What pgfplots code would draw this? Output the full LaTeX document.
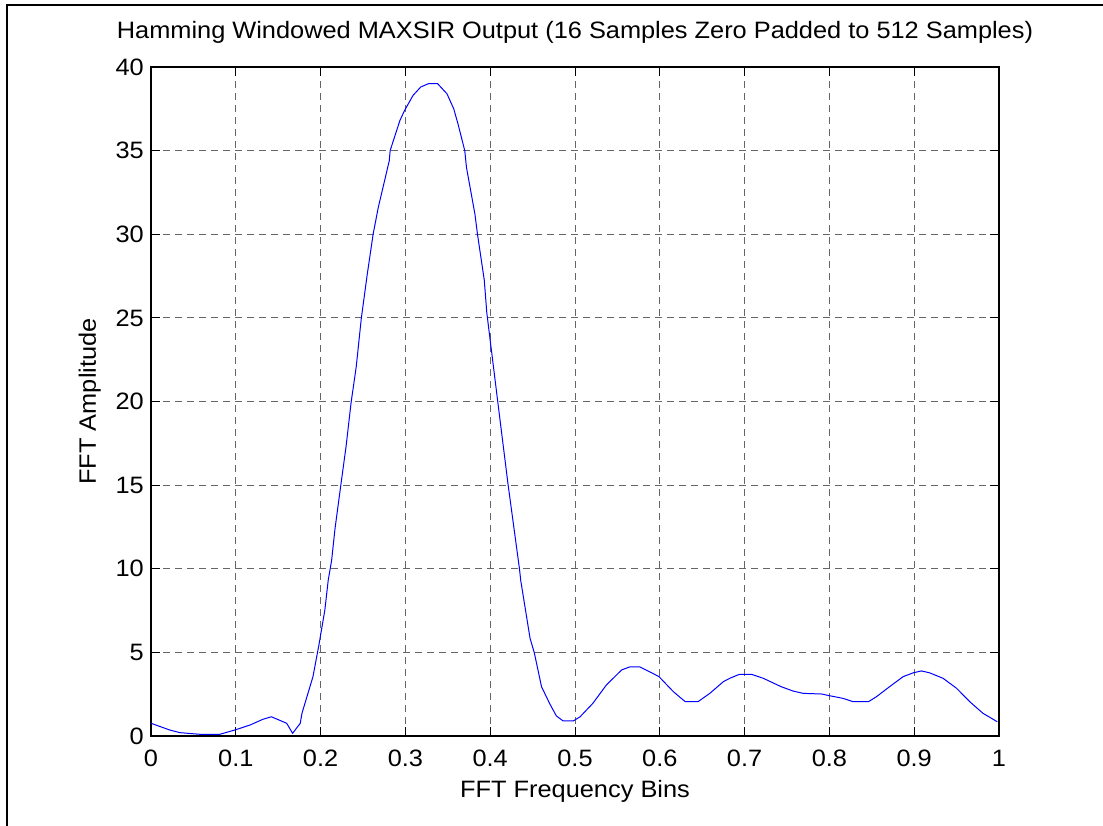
\documentclass[border=0pt]{standalone}
\usepackage{fontspec}
\setmainfont[FakeStretch=1.07]{Liberation Sans}
\usepackage{pgfplots}
\pgfplotsset{compat=1.18}
\newcommand{\figfont}{\fontsize{23.7}{28}\selectfont}
\begin{document}
\begin{tikzpicture}
% page frame (left and top edges)
\path[use as bounding box] (0pt,0pt) rectangle (1103pt,826pt);
\draw[line width=2pt] (7pt,0pt) -- (7pt,821pt) -- (1103pt,821pt);
\begin{axis}[
  at={(151pt,90pt)}, anchor=south west,
  scale only axis, width=848pt, height=669pt,
  xmin=0, xmax=1, ymin=0, ymax=40,
  xtick={0,0.1,0.2,0.3,0.4,0.5,0.6,0.7,0.8,0.9,1},
  xticklabels={0,0.1,0.2,0.3,0.4,0.5,0.6,0.7,0.8,0.9,1},
  ytick={0,5,10,15,20,25,30,35,40},
  yticklabels={0,5,10,15,20,25,30,35,40},
  grid=major,
  major grid style={dash pattern=on 7pt off 5pt, black!60, line width=1pt},
  tick align=inside, major tick length=9pt,
  tick style={black, line width=1pt},
  axis line style={line width=2pt},
  every tick label/.append style={font=\figfont},
  xticklabel style={anchor=base, inner sep=0pt, yshift=-31pt},
  yticklabel style={anchor=east, inner sep=0pt, xshift=-7pt},
  title={Hamming Windowed MAXSIR Output (16 Samples Zero Padded to 512 Samples)},
  title style={font=\figfont, at={(axis description cs:0.5,1.0329)}, anchor=base, inner sep=0pt},
  xlabel={FFT Frequency Bins},
  xlabel style={font=\figfont, at={(axis description cs:0.5,-0.0912)}, anchor=base, inner sep=0pt},
  ylabel={FFT Amplitude},
  ylabel style={font=\figfont, at={(axis description cs:-0.0649,0.5)}, anchor=base, inner sep=0pt},
]
\addplot[blue, line width=1pt] coordinates {
(0,0.76) (0.022,0.36) (0.034,0.2) (0.058,0.1) (0.081,0.1) (0.099,0.36)
(0.117,0.66) (0.132,1.0) (0.142,1.15) (0.160,0.76) (0.167,0.16) (0.176,0.76)
(0.178,1.35) (0.191,3.55) (0.198,5.44) (0.205,7.53) (0.209,9.32) (0.213,10.5)
(0.217,12.4) (0.224,15.06) (0.230,17.3) (0.236,19.95) (0.242,22.07) (0.248,24.97)
(0.255,27.6) (0.262,30.02) (0.268,31.6) (0.281,34.4) (0.282,35.0) (0.2935,36.8)
(0.299,37.4) (0.309,38.3) (0.318,38.8) (0.327,39.0) (0.338,39.0) (0.349,38.4)
(0.357,37.5) (0.362,36.6) (0.370,35.0) (0.372,34.0) (0.382,31.2) (0.385,30.0)
(0.393,27.26) (0.396,25.3) (0.409,19.95) (0.421,15.06) (0.4345,10.0) (0.436,9.3)
(0.447,5.84) (0.452,4.98) (0.4605,2.95) (0.470,1.95) (0.478,1.2) (0.486,0.9)
(0.498,0.9) (0.506,1.15) (0.521,1.95) (0.537,3.05) (0.555,3.95) (0.565,4.14)
(0.576,4.14) (0.588,3.84) (0.599,3.55) (0.616,2.65) (0.630,2.05) (0.645,2.05)
(0.659,2.55) (0.675,3.25) (0.6825,3.45) (0.694,3.69) (0.708,3.69) (0.722,3.45)
(0.743,2.95) (0.757,2.69) (0.769,2.55) (0.791,2.51) (0.800,2.41) (0.816,2.25)
(0.828,2.05) (0.846,2.05) (0.8555,2.35) (0.871,2.95) (0.887,3.55) (0.899,3.78)
(0.9085,3.89) (0.918,3.78) (0.934,3.45) (0.950,2.85) (0.9655,2.05) (0.981,1.36)
(0.998,0.85)
};
\end{axis}
\end{tikzpicture}
\end{document}
